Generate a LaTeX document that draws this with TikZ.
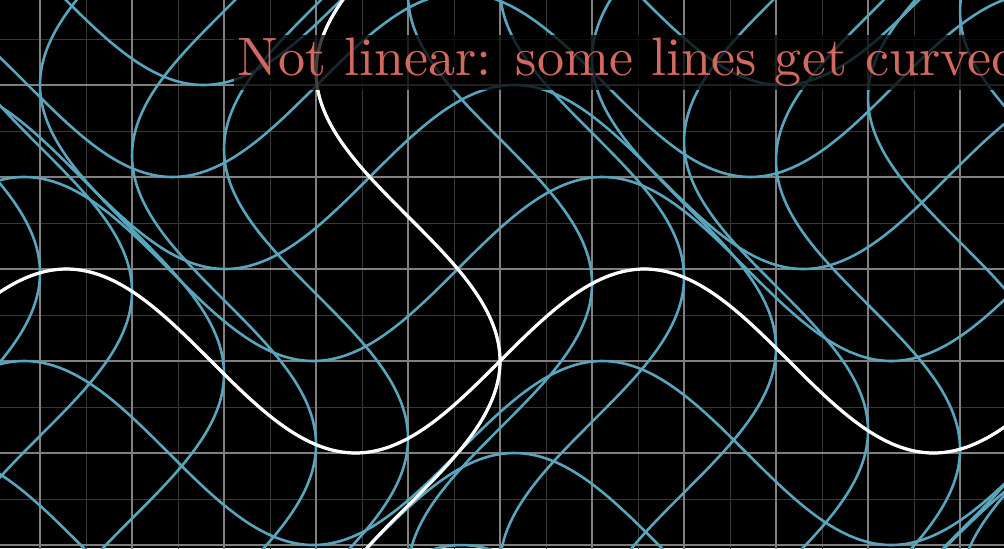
\documentclass[tikz,border=0pt]{standalone}
\usepackage{tikz}
\definecolor{planeblue}{RGB}{88,166,190}
\definecolor{wordred}{RGB}{210,105,95}
\tikzset{
  majorgrid/.style={draw=white!50!black, line width=0.45pt},
  minorgrid/.style={draw=white!22!black, line width=0.3pt},
  bentline/.style={planeblue, line width=0.8pt, smooth, samples=140, variable=\t},
  bentaxis/.style={white, line width=1pt, smooth, samples=160, variable=\t},
  caption/.style={fill=black, fill opacity=0.75, text opacity=1, text=wordred,
                  font=\fontsize{10}{12}\selectfont, scale=1.674, transform shape,
                  inner xsep=0.6pt, inner ysep=0.5pt, anchor=base west}
}
\begin{document}
\begin{tikzpicture}
\fill[black] (-5.435,-2.033) rectangle (5.478,3.924);
\useasboundingbox (-5.435,-2.033) rectangle (5.478,3.924);
\clip (-5.435,-2.033) rectangle (5.478,3.924);
% fixed background plane
\draw[minorgrid, step=0.5] (-6,-3) grid (6,5);
\draw[majorgrid, step=1] (-6,-3) grid (6,5);
% images of the lines x = n and y = m
\foreach \n in {-5,...,7}
  \draw[bentline, domain=-3.2:5] plot ({\n + cos(\t r) - 1}, {\t + sin(\n r)});
\foreach \m in {-3,...,4}
  \draw[bentline, domain=-6:7.6] plot ({\t + cos(\m r) - 1}, {\m + sin(\t r)});
% images of the axes
\draw[bentaxis, domain=-3.2:5] plot ({cos(\t r) - 1}, {\t});
\draw[bentaxis, domain=-6:7.6] plot ({\t}, {sin(\t r)});
\node[caption] (title) at (-2.90,3.101) {Not linear: some lines get curved};
\end{tikzpicture}
\end{document}
